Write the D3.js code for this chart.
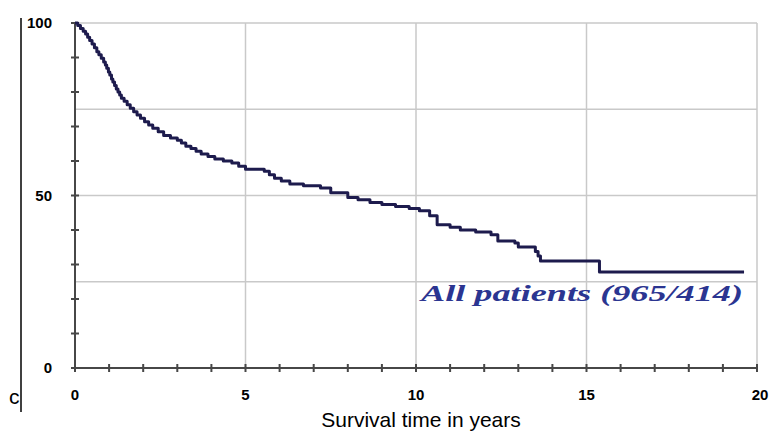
<!DOCTYPE html>
<html>
<head>
<meta charset="utf-8">
<script src="https://cdn.jsdelivr.net/npm/d3@7"></script>
<style>
  body { margin: 0; background: #fff; }
  svg { display: block; }
</style>
</head>
<body>
<div id="chart"></div>
<script>
// Kaplan-Meier steps (years, % surviving)
var stepTimes = [0, 0.08, 0.16, 0.24, 0.31, 0.37, 0.43, 0.5, 0.57, 0.64, 0.7, 0.77, 0.84, 0.89,
  0.93, 0.98, 1.02, 1.07, 1.11, 1.16, 1.21, 1.26, 1.31, 1.36, 1.44, 1.53, 1.62, 1.72, 1.82, 1.92,
  2.04, 2.16, 2.28, 2.44, 2.6, 2.8, 3.0, 3.12, 3.25, 3.4, 3.55, 3.7, 3.9, 4.1, 4.35, 4.6, 4.8, 5.0,
  5.55, 5.7, 5.85, 6.05, 6.3, 6.7, 7.2, 7.5, 8.0, 8.3, 8.65, 9.0, 9.4, 9.8, 10.1, 10.4, 10.62,
  11.0, 11.3, 11.75, 12.2, 12.4, 12.9, 13.0, 13.5, 13.58, 13.65, 15.38, 19.62];
var survival = [100, 99.3, 98.4, 97.6, 96.8, 95.9, 94.9, 93.9, 92.8, 91.7, 90.8, 89.8, 88.7, 87.8,
  86.9, 85.8, 84.9, 83.8, 82.9, 81.9, 80.9, 80.0, 79.1, 78.2, 77.3, 76.3, 75.3, 74.3, 73.3, 72.4,
  71.4, 70.4, 69.5, 68.5, 67.4, 66.7, 66.0, 65.2, 64.3, 63.6, 62.8, 62.0, 61.3, 60.6, 60.0, 59.4, 58.5, 57.6,
  57.0, 56.0, 55.0, 54.2, 53.3, 52.8, 52.2, 50.8, 49.4, 48.8, 48.0, 47.4, 46.8, 46.2, 45.6, 44.1, 41.5,
  40.8, 40.0, 39.4, 38.6, 36.8, 36.2, 35.1, 33.8, 32.5, 31.0, 27.8, 27.8];

var xTicks = [0, 5, 10, 15, 20];
var yTicks = [0, 50, 100];
var xGrid = [5, 10, 15, 20];
var yGrid = [25, 50, 75, 100];
var xLabel = "Survival time in years";
var seriesLabel = "All patients (965/414)";

var W = 769, H = 431;
var margin = { top: 23, right: 12, bottom: 63, left: 75 };

var svg = d3.select("#chart").append("svg")
    .attr("width", W)
    .attr("height", H);

var x = d3.scaleLinear().domain([0, 20]).range([margin.left, 757]);
var y = d3.scaleLinear().domain([0, 100]).range([368, margin.top]);

// gridlines
svg.append("g").selectAll("line.h")
    .data(yGrid).enter().append("line")
    .attr("x1", x(0)).attr("x2", x(20))
    .attr("y1", d => y(d)).attr("y2", d => y(d))
    .attr("stroke", "#c9c9c9").attr("stroke-width", 1.5);
svg.append("g").selectAll("line.v")
    .data(xGrid).enter().append("line")
    .attr("x1", d => x(d)).attr("x2", d => x(d))
    .attr("y1", y(100)).attr("y2", y(0))
    .attr("stroke", "#c9c9c9").attr("stroke-width", 1.5);

// axes lines + tick marks (ticks cross the axis)
var axisCol = "#474747";
svg.append("line")
    .attr("x1", x(0)).attr("x2", x(0)).attr("y1", y(100)).attr("y2", y(0))
    .attr("stroke", axisCol).attr("stroke-width", 2);
svg.append("line")
    .attr("x1", x(0)).attr("x2", x(20)).attr("y1", y(0)).attr("y2", y(0))
    .attr("stroke", axisCol).attr("stroke-width", 2);

svg.append("g").selectAll("line")
    .data(d3.range(0, 101, 10)).enter().append("line")
    .attr("x1", x(0) - 4).attr("x2", x(0) + 4)
    .attr("y1", d => y(d)).attr("y2", d => y(d))
    .attr("stroke", axisCol).attr("stroke-width", 2);
svg.append("g").selectAll("line")
    .data(d3.range(0, 21, 1)).enter().append("line")
    .attr("x1", d => x(d)).attr("x2", d => x(d))
    .attr("y1", y(0) - 4).attr("y2", y(0) + 4)
    .attr("stroke", axisCol).attr("stroke-width", 2);

// tick labels
svg.append("g").selectAll("text")
    .data(yTicks).enter().append("text")
    .attr("x", 52).attr("y", d => y(d) + 5)
    .attr("text-anchor", "end")
    .attr("font-family", "Liberation Sans, Arial, sans-serif")
    .attr("font-weight", "bold").attr("font-size", 15)
    .text(d => d);
svg.append("g").selectAll("text")
    .data(xTicks).enter().append("text")
    .attr("x", d => x(d) + (d == 20 ? 3 : 0)).attr("y", 400)
    .attr("text-anchor", "middle")
    .attr("font-family", "Liberation Sans, Arial, sans-serif")
    .attr("font-weight", "bold").attr("font-size", 15)
    .text(d => d);

svg.append("text")
    .attr("x", 421).attr("y", 427)
    .attr("text-anchor", "middle")
    .attr("font-family", "Liberation Sans, Arial, sans-serif")
    .attr("font-size", 21)
    .text(xLabel);

// survival curve
var pts = stepTimes.map((t, i) => [t, survival[i]]);
var line = d3.line()
    .x(d => x(d[0]))
    .y(d => y(d[1]))
    .curve(d3.curveStepAfter);
svg.append("path")
    .attr("d", line(pts))
    .attr("fill", "none")
    .attr("stroke", "#1d1b4d")
    .attr("stroke-width", 3)
    .attr("stroke-linejoin", "round");

svg.append("text")
    .attr("x", 421).attr("y", 301)
    .attr("font-family", "Liberation Serif, Times New Roman, serif")
    .attr("font-style", "italic").attr("font-weight", "bold")
    .attr("font-size", 24)
    .attr("fill", "#2b3591")
    .attr("textLength", 322)
    .attr("lengthAdjust", "spacingAndGlyphs")
    .text(seriesLabel);

// clipped panel letter and border line on the left
svg.append("clipPath").attr("id", "leftclip")
    .append("rect").attr("x", 0).attr("y", 0).attr("width", 20).attr("height", H);
svg.append("text")
    .attr("x", 9).attr("y", 404)
    .attr("clip-path", "url(#leftclip)")
    .attr("font-family", "Liberation Sans, Arial, sans-serif")
    .attr("font-size", 21)
    .text("c");
svg.append("line")
    .attr("x1", 21).attr("x2", 21).attr("y1", 18).attr("y2", 412)
    .attr("stroke", "#000").attr("stroke-width", 1.5);
</script>
</body>
</html>
